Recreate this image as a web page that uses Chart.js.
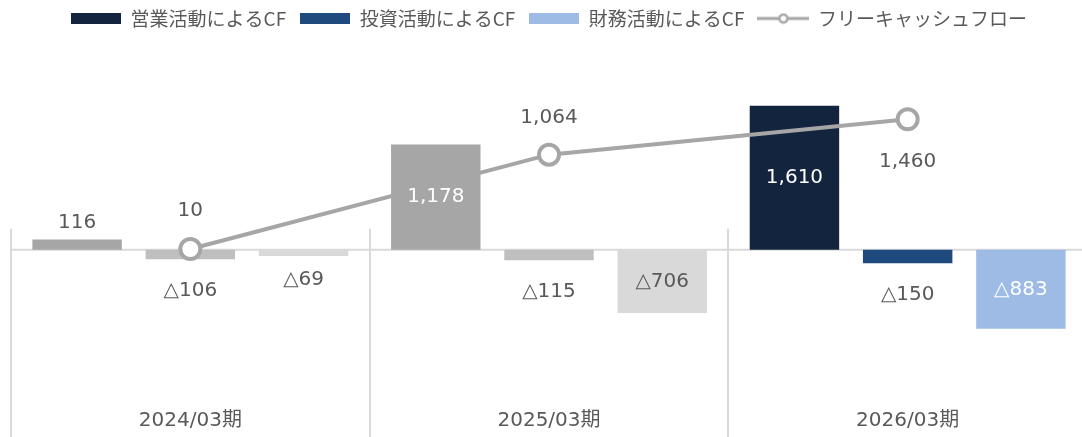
<!DOCTYPE html>
<html lang="ja">
<head>
<meta charset="utf-8">
<title>キャッシュフロー推移</title>
<script src="https://cdn.jsdelivr.net/npm/chart.js@4/dist/chart.umd.min.js"></script>
<style>
  html, body { margin: 0; padding: 0; background: #fff; overflow: hidden; }
  canvas { display: block; margin: -5px 0 0 -3px; }
</style>
</head>
<body>
<canvas id="cfChart" width="1104" height="454"></canvas>
<script>
// データ
const categories = ["2024/03期", "2025/03期", "2026/03期"];
const seriesNames = ["営業活動によるCF", "投資活動によるCF", "財務活動によるCF", "フリーキャッシュフロー"];
const operatingCF = [116, 1178, 1610];
const investingCF = [-106, -115, -150];
const financingCF = [-69, -706, -883];
const freeCF = [10, 1064, 1460];

// 色（過去期はグレー、最新期のみカラー）
const operatingColors = ["#a6a6a6", "#a6a6a6", "#13243f"];
const investingColors = ["#bfbfbf", "#bfbfbf", "#1f4a7d"];
const financingColors = ["#d9d9d9", "#d9d9d9", "#9dbbe5"];
const lineColor = "#a6a6a6";
const textColor = "#595959";

// ラベル位置（center = 棒の中央, それ以外は端からのずれ）
const labelPlace = [
  [{dy: -17}, {at: "center", color: "#ffffff"}, {at: "center", color: "#ffffff"}],
  [{dy: 31}, {dy: 32}, {dy: 32}],
  [{dy: 24}, {at: "center"}, {at: "center", color: "#ffffff"}],
  [{dy: -38}, {dy: -37}, {dy: 43}]
];

const fmt = v => (v < 0 ? "△" : "") + Math.abs(v).toLocaleString("en-US");

// 凡例アイコン
function boxIcon(color) {
  const c = document.createElement("canvas");
  c.width = 50; c.height = 11;
  const g = c.getContext("2d");
  g.fillStyle = color;
  g.fillRect(0, 0, 50, 11);
  return c;
}
function lineIcon() {
  const c = document.createElement("canvas");
  c.width = 52; c.height = 12;
  const g = c.getContext("2d");
  g.strokeStyle = lineColor;
  g.lineWidth = 3;
  g.beginPath(); g.moveTo(0, 6); g.lineTo(52, 6); g.stroke();
  g.fillStyle = "#fff";
  g.lineWidth = 2.5;
  g.beginPath(); g.arc(26, 6, 4, 0, Math.PI * 2); g.fill(); g.stroke();
  return c;
}
const legendIcons = [boxIcon("#13243f"), boxIcon("#1f4a7d"), boxIcon("#9dbbe5"), lineIcon()];

// 区切り線とゼロ線
const separators = {
  id: "separators",
  beforeDatasetsDraw(chart) {
    const {ctx, chartArea, scales: {x, y}} = chart;
    const zero = y.getPixelForValue(0);
    const step = x.getPixelForValue(1) - x.getPixelForValue(0);
    const start = x.getPixelForValue(0) - step / 2;
    ctx.save();
    ctx.strokeStyle = "#d9d9d9";
    ctx.lineWidth = 2;
    ctx.beginPath();
    ctx.moveTo(chartArea.left, zero);
    ctx.lineTo(chart.width, zero);
    for (let i = 0; i <= categories.length; i++) {
      const px = Math.round(start + i * step);
      ctx.moveTo(px, zero - 21);
      ctx.lineTo(px, chart.height);
    }
    ctx.stroke();
    ctx.restore();
  }
};

// 値ラベル
const valueLabels = {
  id: "valueLabels",
  afterDatasetsDraw(chart) {
    const ctx = chart.ctx;
    ctx.save();
    ctx.font = '20px "DejaVu Sans", "Noto Sans CJK JP", sans-serif';
    ctx.textAlign = "center";
    ctx.textBaseline = "middle";
    chart.data.datasets.forEach((ds, di) => {
      const meta = chart.getDatasetMeta(di);
      meta.data.forEach((el, i) => {
        const p = labelPlace[di][i];
        const y = p.at === "center" ? (el.y + el.base) / 2 : el.y + p.dy;
        ctx.fillStyle = p.color || textColor;
        ctx.fillText(fmt(ds.data[i]), el.x, y);
      });
    });
    ctx.restore();
  }
};

// 凡例の高さを固定
const legendHeight = {
  id: "legendHeight",
  beforeInit(chart) {
    const fit = chart.legend.fit;
    chart.legend.fit = function () {
      fit.call(this);
      this.height = 67;
    };
  }
};

new Chart("cfChart", {
  type: "bar",
  data: {
    labels: categories,
    datasets: [
      {label: seriesNames[0], data: operatingCF, backgroundColor: operatingColors, order: 1},
      {label: seriesNames[1], data: investingCF, backgroundColor: investingColors, order: 1},
      {label: seriesNames[2], data: financingCF, backgroundColor: financingColors, order: 1},
      {
        type: "line",
        label: seriesNames[3],
        data: freeCF,
        borderColor: lineColor,
        borderWidth: 4,
        pointRadius: 10,
        pointBorderWidth: 4,
        pointBackgroundColor: "#ffffff",
        pointBorderColor: lineColor,
        tension: 0,
        order: 0
      }
    ]
  },
  options: {
    responsive: false,
    animation: false,
    layout: {padding: 0},
    datasets: {
      bar: {categoryPercentage: 0.947, barPercentage: 0.79}
    },
    plugins: {
      tooltip: {enabled: false},
      legend: {
        position: "top",
        labels: {
          usePointStyle: true,
          pointStyleWidth: 50,
          padding: 14,
          color: textColor,
          font: {size: 19, family: '"Noto Sans CJK JP", sans-serif'},
          generateLabels: chart => chart.data.datasets.map((ds, i) => ({
            text: ds.label,
            fontColor: textColor,
            pointStyle: legendIcons[i],
            lineWidth: 0,
            hidden: false,
            datasetIndex: i
          }))
        }
      }
    },
    scales: {
      x: {
        grid: {display: false, drawTicks: false},
        border: {display: false},
        ticks: {
          color: textColor,
          padding: 16,
          font: {size: 20, family: '"DejaVu Sans", "Noto Sans CJK JP", sans-serif'}
        }
      },
      y: {
        display: false,
        min: -1600,
        max: 2100
      }
    }
  },
  plugins: [legendHeight, separators, valueLabels]
});
</script>
</body>
</html>
